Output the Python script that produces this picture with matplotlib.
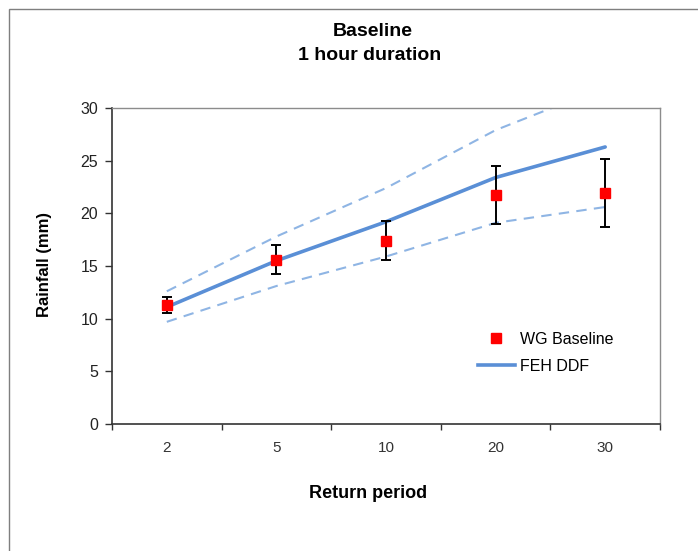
"""
Baseline 1 hour duration: WG Baseline against FEH DDF rainfall by return period.
"""
import matplotlib
matplotlib.use('Agg')
import matplotlib.pyplot as plt
from matplotlib.lines import Line2D
from matplotlib.patches import Rectangle

# Data
return_periods = ['2', '5', '10', '20', '30']
wg_baseline = [11.3, 15.6, 17.4, 21.7, 21.9]
wg_high = [12.1, 17.0, 19.3, 24.5, 25.2]
wg_low = [10.5, 14.2, 15.6, 19.0, 18.7]
feh_ddf = [11.1, 15.5, 19.2, 23.4, 26.3]
feh_upper = [12.6, 17.8, 22.4, 27.9, 32.0]
feh_lower = [9.7, 13.1, 15.9, 19.1, 20.6]

plt.rcParams['font.family'] = ['Liberation Sans', 'DejaVu Sans']

W, H = 698, 551
fig = plt.figure(figsize=(W / 100, H / 100), dpi=100)
fig.patch.set_facecolor('white')

# outer chart border (left and top visible)
fig.patches.append(Rectangle((9 / W, -0.1), 1.2, 1 - 9 / H + 0.1,
                             transform=fig.transFigure, fill=False,
                             edgecolor='#7f7f7f', lw=1.0))

ax = fig.add_axes([112 / W, 1 - 424 / H, 548 / W, 316 / H])
x = list(range(len(return_periods)))

blue = '#5a8fd6'
light_blue = '#8fb5e4'

ax.plot(x, feh_upper, color=light_blue, lw=1.5, dashes=(5, 3.5))
ax.plot(x, feh_lower, color=light_blue, lw=1.5, dashes=(5, 3.5))
ax.plot(x, feh_ddf, color=blue, lw=2.6, solid_capstyle='round')

err_lo = [v - lo for v, lo in zip(wg_baseline, wg_low)]
err_hi = [hi - v for v, hi in zip(wg_baseline, wg_high)]
ax.errorbar(x, wg_baseline, yerr=[err_lo, err_hi], fmt='none',
            ecolor='black', elinewidth=1.4, capsize=3.5, capthick=1.4, zorder=4)
ax.plot(x, wg_baseline, 's', color='#ff0000', ms=6.8, mec='#ff0000', zorder=5)

ax.set_xlim(-0.5, len(return_periods) - 0.5)
ax.set_ylim(0, 30)
ax.set_yticks(range(0, 31, 5))
ax.set_xticks(x)
ax.set_xticklabels(return_periods)
ax.set_xticks([i - 0.5 for i in range(len(return_periods) + 1)], minor=True)
ax.tick_params(axis='x', which='major', length=0, pad=12, labelsize=11,
               labelcolor='#333333')
ax.tick_params(axis='x', which='minor', length=4, width=1, color='#333333')
ax.tick_params(axis='y', length=5, width=1, pad=5, labelsize=11.5,
               color='#333333', labelcolor='#222222')

for side in ['left', 'bottom']:
    ax.spines[side].set_color('#333333')
    ax.spines[side].set_linewidth(1.2)
for side in ['top', 'right']:
    ax.spines[side].set_color('#8c8c8c')
    ax.spines[side].set_linewidth(1.0)

handles = [
    Line2D([], [], ls='none', marker='s', color='#ff0000', ms=6.8),
    Line2D([], [], color=blue, lw=2.6),
]
ax.legend(handles, ['WG Baseline', 'FEH DDF'], loc='center left',
          bbox_to_anchor=(0.668, 0.225), frameon=False, fontsize=11.5,
          handlelength=2.3, handletextpad=0.35, labelspacing=0.75,
          borderpad=0, borderaxespad=0)

fig.text(373 / W, 1 - 32 / H, 'Baseline', ha='center', va='center',
         fontsize=14, fontweight='bold')
fig.text(370 / W, 1 - 55 / H, '1 hour duration', ha='center', va='center',
         fontsize=14, fontweight='bold')
fig.text(368 / W, 1 - 494 / H, 'Return period', ha='center', va='center',
         fontsize=13, fontweight='bold')
fig.text(44 / W, 1 - 264 / H, 'Rainfall (mm)', ha='center', va='center',
         rotation=90, fontsize=12, fontweight='bold')

fig.savefig('out.png', dpi=100)
